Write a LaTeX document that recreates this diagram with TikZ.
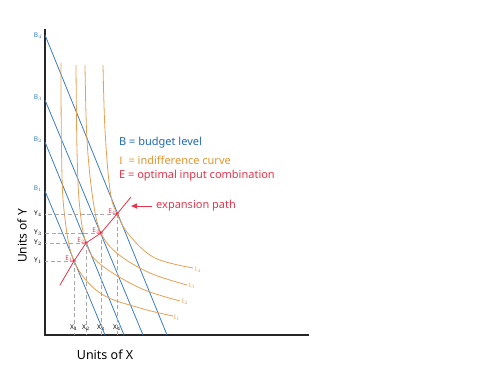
\documentclass[tikz,border=0pt]{standalone}
\usepackage{fontspec}
\setmainfont{Noto Sans}
\newfontfamily\serifI{Liberation Serif}
\usepackage{tikz}
\usetikzlibrary{arrows.meta}
\definecolor{budget}{HTML}{3A7DC0}
\definecolor{budgettext}{HTML}{1F69B4}
\definecolor{indiff}{HTML}{E8A050}
\definecolor{indifftext}{HTML}{E3942E}
\definecolor{optim}{HTML}{E8334A}
\definecolor{guide}{HTML}{A8A8A8}

\begin{document}
\begin{tikzpicture}[x=1pt,y=-1pt,
  axisline/.style={line width=1.3pt, black!85},
  bline/.style={budget, line width=0.8pt},
  icurve/.style={indiff, line width=0.8pt},
  guideline/.style={guide, dashed, dash pattern=on 4pt off 2.5pt, line width=0.7pt},
  tick/.style={font=\fontsize{6.5}{7}\selectfont, inner sep=0pt},
  legend/.style={font=\fontsize{11}{13}\selectfont, anchor=west, inner sep=0pt},
  optpoint/.style={circle, fill=optim, inner sep=0pt, minimum size=3.6pt}]
\useasboundingbox (0,0) rectangle (500,387);

% axes
\coordinate (O) at (45,335);
\draw[axisline] (45,29) -- (O) -- (309,335);
\node at (22,236) [rotate=90, font=\fontsize{12}{14}\selectfont] {Units of Y};
\node at (105,355) [font=\fontsize{12.5}{14}\selectfont] {Units of X};

% budget lines
\node[tick, text=budget] (b4) at (38,36) {B$_4$};
\node[tick, text=budget] (b3) at (38,98) {B$_3$};
\node[tick, text=budget] (b2) at (38,140) {B$_2$};
\node[tick, text=budget] (b1) at (38,189) {B$_1$};
\draw[bline] (45,35) -- (167,335);
\draw[bline] (45,100) -- (143,335);
\draw[bline] (45,142) -- (124,335);
\draw[bline] (45,191) -- (105,335);

% indifference curves
\draw[icurve] plot[smooth, tension=0.6] coordinates
  {(61,63) (61.5,150) (64,210) (74,261) (100,293) (140,308) (173,316)};
\draw[icurve] plot[smooth, tension=0.6] coordinates
  {(76,65) (77,150) (79.5,205) (86,243) (100,264) (140,288) (180,301)};
\draw[icurve] plot[smooth, tension=0.6] coordinates
  {(85,65) (87,140) (93,200) (101,233) (118,254) (150,273) (187,285)};
\draw[icurve] plot[smooth, tension=0.6] coordinates
  {(103,65) (105,130) (110,190) (117,214) (130,236) (155,258) (193,268)};
\node[tick, text=indiff] (i1) at (177,318) {{\serifI I}$_1$};
\node[tick, text=indiff] (i2) at (185,302) {{\serifI I}$_2$};
\node[tick, text=indiff] (i3) at (192,286) {{\serifI I}$_3$};
\node[tick, text=indiff] (i4) at (198,270) {{\serifI I}$_4$};

% optimal points
\node[optpoint] (e1) at (74,261) {};
\node[optpoint] (e2) at (86,243) {};
\node[optpoint] (e3) at (101,233) {};
\node[optpoint] (e4) at (117,214) {};

% guide lines to the axes
\foreach \e/\n in {e1/1,e2/2,e3/3,e4/4} {
  \draw[guideline] (\e.center) -- (45,0 |- \e.center);
  \draw[guideline] (\e.center) -- (\e.center |- O);
  \node[tick] at (38,0 |- \e.center) {Y$_\n$};
  \node[tick] at ([yshift=7pt]\e.center |- O) {X$_\n$};
  \node[tick, text=optim, anchor=south east] at ([xshift=-1pt,yshift=-1pt]\e.center) {E$_\n$};
}

% expansion path
\coordinate (pathstart) at (60,285);
\coordinate (pathend) at (131,197);
\draw[optim, line width=0.8pt] (pathstart) -- (e1.center) -- (e2.center) -- (e3.center) -- (e4.center) -- (pathend);
\node[legend, text=optim] (pathlabel) at (156,206) {expansion path};
\draw[optim, line width=0.9pt, -{Triangle[length=6pt,width=5pt]}] (pathlabel.west) ++(-4,0) coordinate (arrowtail) -- (131,206);

% legend
\node[legend, text=budgettext] (lb) at (119,143) {B = budget level};
\node[legend, text=indifftext] (li) at (119,160) {{\serifI I}\ \ = indifference curve};
\node[legend, text=optim] (le) at (119,176) {E = optimal input combination};
\end{tikzpicture}
\end{document}
